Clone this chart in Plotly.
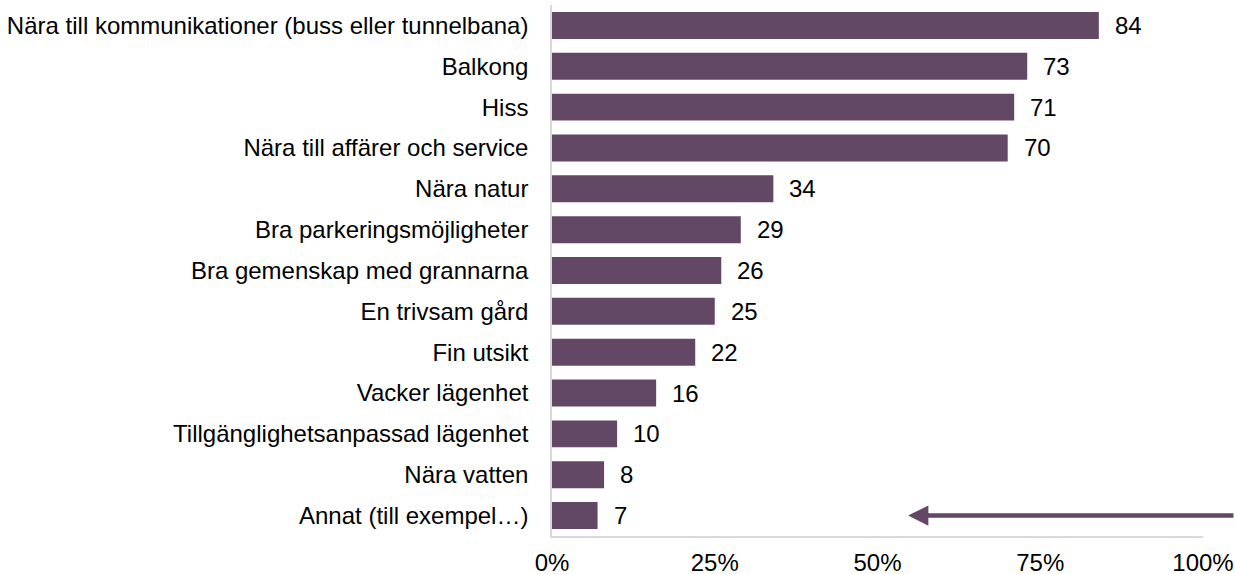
import plotly.graph_objects as go

# Kategorier och värden (andel i procent)
kategorier = [
    "Nära till kommunikationer (buss eller tunnelbana)",
    "Balkong",
    "Hiss",
    "Nära till affärer och service",
    "Nära natur",
    "Bra parkeringsmöjligheter",
    "Bra gemenskap med grannarna",
    "En trivsam gård",
    "Fin utsikt",
    "Vacker lägenhet",
    "Tillgänglighetsanpassad lägenhet",
    "Nära vatten",
    "Annat (till exempel…)",
]
varden = [84, 73, 71, 70, 34, 29, 26, 25, 22, 16, 10, 8, 7]
x_ticks = [0, 25, 50, 75, 100]
x_ticktext = ["0%", "25%", "50%", "75%", "100%"]

FARG = "#634866"
FONT = "Liberation Sans, Arial, sans-serif"
FS = 24

fig = go.Figure()
fig.add_trace(go.Bar(
    x=varden,
    y=kategorier,
    orientation="h",
    marker=dict(color=FARG, line=dict(width=0)),
    hoverinfo="x+y",
))

# Värdeetiketter till höger om staplarna
for k, v in zip(kategorier, varden):
    fig.add_annotation(x=v, y=k, text=str(v), showarrow=False,
                       xanchor="left", xshift=14,
                       font=dict(family=FONT, size=FS, color="#000000"))

# Pil längst ner till höger
fig.add_annotation(x=54.7, y=kategorier[-1], ax=330, ay=0,
                   axref="pixel", ayref="pixel", text="",
                   showarrow=True, arrowhead=2, arrowsize=0.9,
                   arrowwidth=4.5, arrowcolor=FARG)

fig.update_layout(
    width=1235, height=574,
    margin=dict(l=552, r=32, t=5, b=38),
    plot_bgcolor="white", paper_bgcolor="white",
    showlegend=False,
    bargap=0.34,
    font=dict(family=FONT, size=FS, color="#000000"),
)
fig.update_xaxes(
    range=[0, 100], tickvals=x_ticks, ticktext=x_ticktext,
    showgrid=False, zeroline=False, automargin=False,
    showline=True, linecolor="#d9d9d9", linewidth=1.5,
    ticks="outside", ticklen=4, tickcolor="rgba(0,0,0,0)",
    tickfont=dict(family=FONT, size=FS),
)
fig.update_yaxes(
    autorange="reversed",
    showgrid=False, zeroline=False, automargin=False,
    showline=True, linecolor="#d9d9d9", linewidth=1.5,
    ticks="outside", ticklen=17, tickcolor="rgba(0,0,0,0)",
    tickfont=dict(family=FONT, size=FS),
)

# sidans standardmarginal bort så att figuren ligger i hörnet
fig.write_html("out.html", config={"displayModeBar": False},
               post_script="document.body.style.margin='0';")
